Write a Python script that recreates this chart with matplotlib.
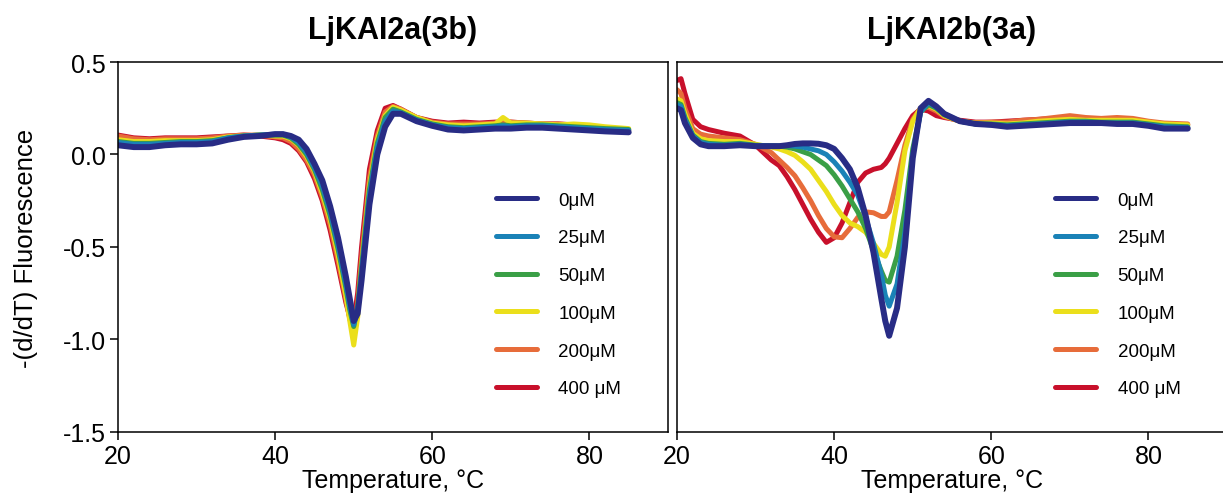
import matplotlib.pyplot as plt

plt.rcParams['font.family'] = ['Liberation Sans', 'DejaVu Sans']

# concentrations and line colours
labels = ['0μM', '25μM', '50μM', '100μM', '200μM', '400 μM']
colors = ['#282c85', '#1a82b7', '#3a9f46', '#ebdf1b', '#e76c3a', '#c8102b']

# LjKAI2a(3b) melt curves
temp_a = [20, 22, 24, 26, 28, 30, 32, 34, 36, 38, 40, 41, 42, 43, 44, 45, 46, 47, 48, 49,
          49.5, 50, 50.5, 51, 52, 53, 54, 55, 56, 58, 60, 62, 64, 66, 68, 69, 70, 72, 74,
          76, 78, 80, 82, 85]
a_0 = [.05, .04, .04, .05, .055, .055, .06, .08, .095, .10, .11, .11, .10, .08, .03, -.05,
       -.14, -.28, -.45, -.66, -.78, -.90, -.86, -.68, -.27, .0, .15, .22, .22, .18, .155,
       .135, .13, .135, .14, .14, .14, .145, .145, .14, .135, .13, .125, .12]
a_25 = [.065, .055, .055, .06, .065, .065, .07, .09, .10, .105, .11, .11, .095, .065, .01,
        -.07, -.17, -.31, -.49, -.70, -.82, -.92, -.84, -.64, -.22, .04, .18, .235, .225,
        .185, .16, .145, .14, .145, .15, .155, .15, .155, .155, .15, .145, .14, .135, .13]
a_50 = [.07, .06, .06, .065, .07, .07, .075, .09, .10, .105, .105, .105, .09, .055, .0,
        -.08, -.19, -.33, -.51, -.72, -.84, -.93, -.82, -.61, -.19, .06, .20, .245, .23,
        .19, .165, .15, .145, .15, .155, .16, .155, .16, .16, .155, .15, .145, .14, .135]
a_100 = [.08, .07, .07, .075, .075, .075, .08, .095, .10, .105, .10, .10, .085, .05, -.01,
         -.09, -.21, -.35, -.54, -.76, -.90, -1.03, -.88, -.60, -.17, .08, .21, .255, .24,
         .20, .17, .16, .155, .16, .165, .20, .17, .17, .165, .16, .165, .16, .15, .14]
a_200 = [.10, .085, .08, .085, .085, .085, .09, .10, .105, .105, .095, .09, .07, .03, -.03,
         -.11, -.23, -.38, -.57, -.78, -.89, -.95, -.80, -.56, -.13, .10, .23, .26, .245,
         .20, .175, .165, .165, .165, .17, .18, .175, .17, .165, .165, .16, .155, .145, .135]
a_400 = [.105, .09, .085, .09, .09, .09, .095, .10, .105, .10, .09, .08, .06, .02, -.04,
         -.13, -.25, -.41, -.60, -.80, -.88, -.90, -.75, -.50, -.08, .13, .25, .265, .245,
         .20, .18, .17, .175, .17, .175, .175, .175, .17, .165, .165, .16, .155, .145, .13]

# LjKAI2b(3a) melt curves
temp_b = [20, 20.5, 21, 22, 23, 24, 26, 28, 30, 32, 33, 34, 35, 36, 37, 38, 39, 40, 41, 42,
          43, 44, 45, 46, 46.5, 47, 48, 49, 50, 51, 52, 53, 54, 56, 58, 60, 62, 64, 66, 68,
          70, 72, 74, 76, 78, 80, 82, 85]
b_0 = [.25, .24, .17, .09, .055, .045, .045, .05, .045, .045, .045, .05, .057, .06, .06,
       .058, .05, .03, -.02, -.08, -.18, -.33, -.53, -.78, -.90, -.98, -.83, -.50, -.02,
       .25, .29, .26, .22, .18, .165, .16, .15, .155, .16, .165, .17, .17, .17, .165, .165,
       .155, .14, .14]
b_25 = [.27, .26, .19, .10, .065, .055, .05, .055, .048, .047, .047, .048, .045, .04, .03,
        .02, .0, -.04, -.09, -.15, -.22, -.34, -.48, -.65, -.76, -.82, -.70, -.42, .0, .23,
        .28, .255, .22, .18, .165, .16, .155, .16, .165, .17, .175, .175, .17, .17, .17,
        .16, .15, .145]
b_50 = [.28, .27, .20, .105, .07, .06, .055, .06, .05, .047, .045, .04, .03, .015, .0,
        -.03, -.06, -.11, -.17, -.24, -.31, -.40, -.52, -.63, -.68, -.69, -.55, -.30, .03,
        .23, .27, .25, .215, .18, .165, .165, .16, .165, .17, .175, .18, .18, .175, .175,
        .175, .165, .155, .15]
b_100 = [.30, .29, .22, .115, .085, .075, .07, .07, .055, .04, .03, .015, -.005, -.04, -.08,
         -.14, -.20, -.27, -.33, -.37, -.39, -.42, -.48, -.54, -.55, -.50, -.26, .02, .18,
         .25, .265, .245, .21, .18, .17, .17, .165, .17, .18, .185, .19, .185, .185, .185,
         .185, .175, .165, .16]
b_200 = [.35, .33, .25, .14, .11, .10, .09, .08, .055, .01, -.03, -.07, -.115, -.18, -.25,
         -.33, -.40, -.445, -.45, -.40, -.34, -.31, -.315, -.335, -.335, -.31, -.14, .05,
         .19, .25, .255, .235, .205, .18, .17, .175, .175, .185, .19, .20, .21, .20, .195,
         .20, .195, .18, .17, .165]
b_400 = [.40, .41, .33, .19, .15, .135, .115, .10, .05, -.03, -.06, -.12, -.19, -.27, -.35,
         -.42, -.475, -.45, -.37, -.26, -.15, -.10, -.08, -.07, -.05, -.02, .06, .14, .21,
         .245, .235, .21, .20, .185, .175, .175, .18, .185, .19, .195, .20, .195, .19, .19,
         .185, .175, .165, .16]

panels = [
    ('LjKAI2a(3b)', temp_a, [a_0, a_25, a_50, a_100, a_200, a_400]),
    ('LjKAI2b(3a)', temp_b, [b_0, b_25, b_50, b_100, b_200, b_400]),
]

fig = plt.figure(figsize=(12.23, 5.02), dpi=100)
ax1 = fig.add_axes([0.0965, 0.1375, 0.4497, 0.737])
ax2 = fig.add_axes([0.5536, 0.1375, 0.4497, 0.737])

for ax, (title, temp, curves) in zip([ax1, ax2], panels):
    lines = []
    # draw high concentrations first so 0μM sits on top
    for i in range(len(curves) - 1, -1, -1):
        lw = 4.3 if i == 0 else 3.6
        ln, = ax.plot(temp, curves[i], color=colors[i], lw=lw, label=labels[i],
                      solid_capstyle='round', solid_joinstyle='round')
        lines.insert(0, ln)
    ax.set_xlim(20, 90)
    ax.set_ylim(-1.5, 0.5)
    ax.set_xticks([20, 40, 60, 80])
    ax.set_title(title, fontsize=22, fontweight='bold', pad=17)
    ax.set_xlabel('Temperature, °C', fontsize=18, labelpad=0)
    for s in ax.spines.values():
        s.set_linewidth(1.1)
    ax.tick_params(axis='both', direction='out', length=6, width=1.1,
                   labelsize=18, pad=3)
    leg = ax.legend(handles=lines, loc='upper left', bbox_to_anchor=(0.673, 0.67),
                    frameon=False, fontsize=13.5, handlelength=2.2,
                    handletextpad=1.15, labelspacing=1.1, borderaxespad=0)
    for h in leg.legend_handles:
        h.set_linewidth(3.6)

ax1.set_yticks([0.5, 0.0, -0.5, -1.0, -1.5])
ax1.set_yticklabels(['0.5', '0.0', '-0.5', '-1.0', '-1.5'])
ax1.set_ylabel('-(d/dT) Fluorescence', fontsize=18.5)
ax1.yaxis.set_label_coords(-0.146, 0.5)
ax2.tick_params(axis='y', left=False, labelleft=False)

fig.savefig('out.png', dpi=100)
